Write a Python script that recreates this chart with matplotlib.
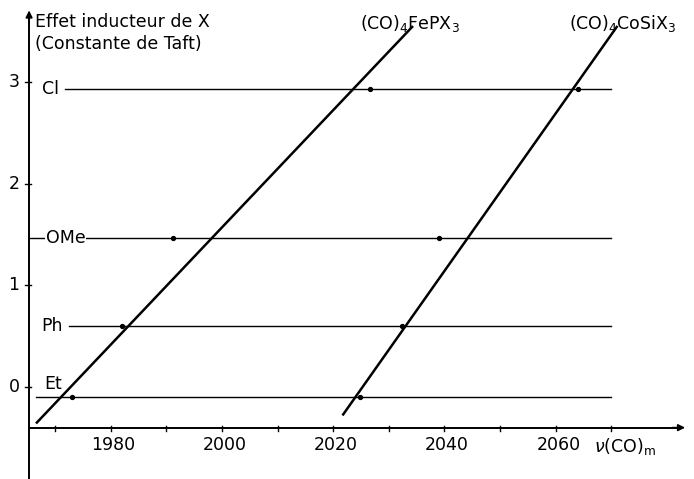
import matplotlib
matplotlib.use("Agg")
import matplotlib.pyplot as plt

# Data
substituents = ["Cl", "OMe", "Ph", "Et"]
taft = [2.93, 1.46, 0.60, -0.10]
fe_points = [2026.6, 1991.2, 1982.0, 1973.0]
co_points = [2064.0, 2039.0, 2032.4, 2024.8]
fe_line_x = [1966.7, 2034.2]
fe_line_y = [-0.35, 3.54]
co_line_x = [2021.8, 2071.0]
co_line_y = [-0.27, 3.54]
x_ticks = [1970, 1980, 1990, 2000, 2010, 2020, 2030, 2040, 2050, 2060, 2070]
x_tick_labels = ["1980", "2000", "2020", "2040", "2060"]
x_labeled = [1980, 2000, 2020, 2040, 2060]
y_ticks = [0, 1, 2, 3]

fig = plt.figure(figsize=(6.94, 4.79), dpi=100)
ax = fig.add_axes([0, 0, 1, 1])
ax.set_xlim(1960.07, 2084.9)
ax.set_ylim(-0.905, 3.805)
ax.axis("off")

x0 = 1965.3   # y-axis position
y0 = -0.40    # x-axis position
x_end = 2070
fs = 12.5

# axes
ax.plot([x0, x0], [-0.905, 3.62], color="black", lw=1.4)
ax.plot([x0, 2082.0], [y0, y0], color="black", lw=1.4)
ax.annotate("", xy=(x0, 3.73), xytext=(x0, 3.55),
            arrowprops=dict(arrowstyle="-|>", color="black", lw=1.2, mutation_scale=10))
ax.annotate("", xy=(2083.8, y0), xytext=(2080.5, y0),
            arrowprops=dict(arrowstyle="-|>", color="black", lw=1.2, mutation_scale=10))

# ticks
for xt in x_ticks:
    ax.plot([xt, xt], [y0 - 0.03, y0 + 0.02], color="black", lw=1.0)
for xt, lab in zip(x_labeled, x_tick_labels):
    ax.text(xt + 0.5, y0 - 0.17, lab, ha="center", va="center", fontsize=fs)
for yt in y_ticks:
    ax.plot([x0 - 0.7, x0 + 0.4], [yt, yt], color="black", lw=1.0)
    ax.text(x0 - 2.7, yt, str(yt), ha="center", va="center", fontsize=fs)

ax.text(2067.0, y0 - 0.19, r"$\nu$(CO)$_\mathrm{m}$", ha="left", va="center", fontsize=fs)

# horizontal substituent lines
line_starts = [1971.8, x0, 1972.5, 1966.5]
for sub, t, xs in zip(substituents, taft, line_starts):
    ax.plot([xs, x_end], [t, t], color="black", lw=1.0)

ax.text(1967.7, taft[0], "Cl", ha="left", va="center", fontsize=fs)
ax.text(1968.3, taft[1], "OMe", ha="left", va="center", fontsize=fs,
        bbox=dict(facecolor="white", edgecolor="none", pad=0.3))
ax.text(1967.4, taft[2], "Ph", ha="left", va="center", fontsize=fs)
ax.text(1968.0, taft[3] + 0.04, "Et", ha="left", va="bottom", fontsize=fs)

# correlation lines
ax.plot(fe_line_x, fe_line_y, color="black", lw=1.8)
ax.plot(co_line_x, co_line_y, color="black", lw=1.8)

# data points
ax.plot(fe_points, taft, "o", color="black", ms=2.8)
ax.plot(co_points, taft, "o", color="black", ms=2.8)

# titles
ax.text(1966.3, 3.59, "Effet inducteur de X", ha="left", va="center", fontsize=fs)
ax.text(1966.3, 3.37, "(Constante de Taft)", ha="left", va="center", fontsize=fs)
ax.text(2024.8, 3.57, r"(CO)$_4$FePX$_3$", ha="left", va="center", fontsize=fs)
ax.text(2062.4, 3.57, r"(CO)$_4$CoSiX$_3$", ha="left", va="center", fontsize=fs)

fig.savefig("out.png", dpi=100)
